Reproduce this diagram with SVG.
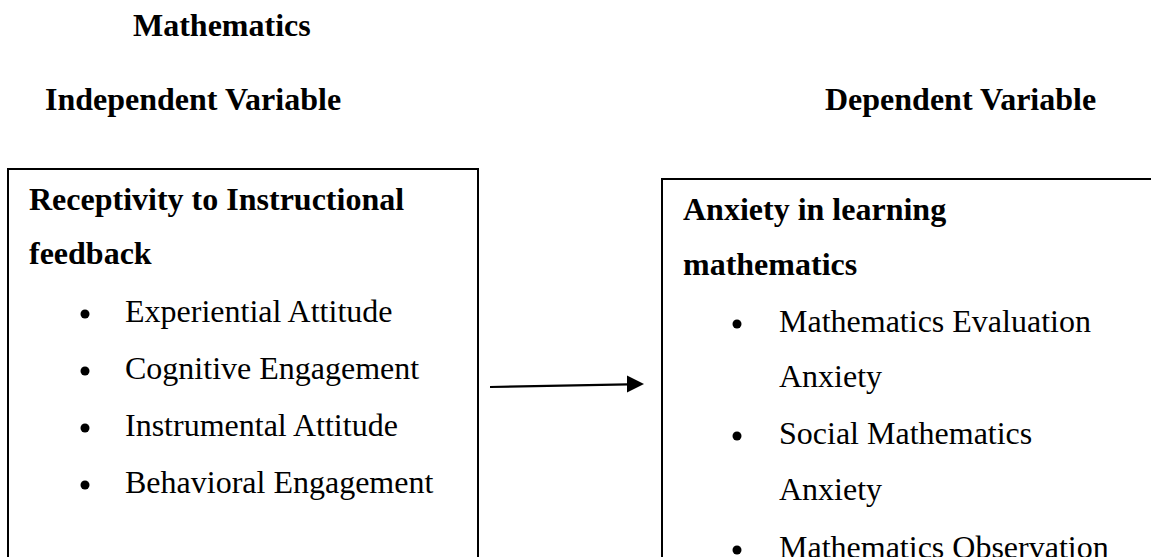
<svg xmlns="http://www.w3.org/2000/svg" width="1151" height="557" viewBox="0 0 1151 557">
<style>
text{font-family:"Liberation Serif","Times New Roman",serif;font-size:32px;fill:#000}
.b{font-weight:bold}
.box{fill:none;stroke:#000;stroke-width:2}
.dot{fill:#000}
.conn{stroke:#000;stroke-width:2.2;fill:none}
</style>
<defs>
<marker id="ah" markerWidth="8" markerHeight="8" refX="7.5" refY="4" orient="auto" markerUnits="strokeWidth">
<path d="M0,0 L8,4 L0,8 Z" fill="#000"/>
</marker>
</defs>
<rect width="1151" height="557" fill="#fff"/>
<g id="headers">
<text class="b" x="133" y="36">Mathematics</text>
<text class="b" x="45" y="110">Independent Variable</text>
<text class="b" x="825" y="110">Dependent Variable</text>
</g>
<g id="independent">
<rect class="box" x="8" y="169" width="470" height="420"/>
<text class="b" x="29" y="210">Receptivity to Instructional</text>
<text class="b" x="29" y="264">feedback</text>
<circle class="dot" cx="85" cy="314" r="4.5"/>
<text x="125" y="322">Experiential Attitude</text>
<circle class="dot" cx="85" cy="371" r="4.5"/>
<text x="125" y="379">Cognitive Engagement</text>
<circle class="dot" cx="85" cy="428" r="4.5"/>
<text x="125" y="436">Instrumental Attitude</text>
<circle class="dot" cx="85" cy="485" r="4.5"/>
<text x="125" y="493">Behavioral Engagement</text>
</g>
<g id="dependent">
<rect class="box" x="662" y="179" width="520" height="420"/>
<text class="b" x="683" y="220">Anxiety in learning</text>
<text class="b" x="683" y="275">mathematics</text>
<circle class="dot" cx="737" cy="324" r="4.5"/>
<text x="779" y="332">Mathematics Evaluation</text>
<text x="779" y="387">Anxiety</text>
<circle class="dot" cx="737" cy="436" r="4.5"/>
<text x="779" y="444">Social Mathematics</text>
<text x="779" y="500">Anxiety</text>
<circle class="dot" cx="737" cy="550" r="4.5"/>
<text x="779" y="558">Mathematics Observation</text>
</g>
<g id="connectors">
<line class="conn" x1="490" y1="387" x2="628" y2="384.3"/>
<path d="M627,375.5 L644,384 L627,392.5 Z" fill="#000"/>
</g>
</svg>
